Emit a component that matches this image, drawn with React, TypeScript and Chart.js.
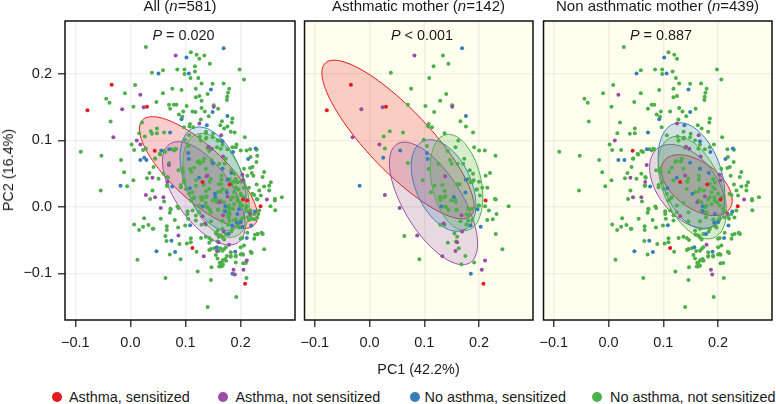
import React, { useEffect, useRef } from "react";
import { Chart, registerables } from "chart.js";

Chart.register(...registerables);

type Pt = [number, number];

const xTicks = [-0.1, 0, 0.1, 0.2];
const yTicks = [-0.1, 0, 0.1, 0.2];
const groupNames = ["Asthma, sensitized", "Asthma, not sensitized", "No asthma, sensitized", "No asthma, not sensitized"];
const groupColors = ["#E41A1C", "#984EA3", "#377EB8", "#4DAF4A"];

// Samples from children of asthmatic mothers
const motherRed: Pt[] = [[-0.078, 0.1455], [-0.034, 0.184], [0.03, 0.151], [0.212, 0.0096], [0.208, -0.1158]];
const motherPurple: Pt[] = [[0.082, 0.228], [-0.015, 0.147], [0.024, 0.15], [-0.031, 0.105], [0.018, 0.094], [0.151, 0.151], [0.138, 0.046], [0.168, -0.0126], [0.169, -0.037], [0.028, 0.018], [0.055, -0.0015], [0.087, -0.043], [0.16, -0.0534], [0.157, -0.0665], [0.133, -0.0745], [0.211, -0.0806], [0.205, -0.0947], [0.1355, -0.025]];
const motherBlue: Pt[] = [[0.169, 0.239], [0.176, 0.137], [0.056, 0.085], [0.025, 0.074], [0.105, 0.081], [0.106, 0.072], [-0.018, 0.032], [0.131, 0.0005], [0.154, 0.015], [0.175, 0.0216], [0.176, 0.041], [0.197, -0.0035], [0.1845, -0.028], [0.203, -0.03], [0.185, -0.1007]];
const motherGreen: Pt[] = [[0.134, 0.228], [0.117, 0.212], [0.144, 0.2155], [0.039, 0.202], [0.109, 0.194], [0.076, 0.178], [0.14, 0.17], [0.129, 0.16], [0.07, 0.154], [0.102, 0.152], [0.151, 0.153], [0.118, 0.143], [0.108, 0.125], [0.107, 0.121], [0.114, 0.12], [0.166, 0.129], [0.176, 0.121], [0.189, 0.112], [0.037, 0.114], [0.061, 0.112], [0.026, 0.106], [0.137, 0.111], [0.099, 0.101], [0.162, 0.1], [0.028, 0.088], [0.157, 0.09], [0.191, 0.09], [0.2, 0.085], [0.2105, 0.085], [0.23, 0.077], [0.07, 0.066], [0.143, 0.084], [0.147, 0.0705], [0.15, 0.065], [0.161, 0.065], [0.171, 0.065], [0.173, 0.0725], [0.108, 0.057], [0.105, 0.0917], [0.126, 0.065], [0.183, 0.055], [0.189, 0.05], [0.188, 0.038], [0.1845, 0.037], [0.16, 0.034], [0.1186, 0.032], [0.133, 0.033], [0.112, 0.022], [0.137, 0.024], [0.128, 0.015], [0.13, 0.011], [0.138, 0.016], [0.15, 0.01], [0.157, 0.01], [0.195, 0.026], [0.2015, 0.017], [0.206, 0.029], [0.215, 0.029], [0.212, 0.047], [0.22, 0.051], [0.2305, 0.011], [0.229, 0.012], [0.2, 0.002], [0.211, 0.001], [0.218, -0.0055], [0.232, -0.0106], [0.225, -0.0186], [0.215, -0.0197], [0.18, -0.003], [0.186, -0.003], [0.18, -0.012], [0.159, -0.0045], [0.144, -0.0045], [0.138, 0.0005], [0.188, -0.0197], [0.18, -0.0207], [0.177, -0.0267], [0.129, -0.027], [0.137, -0.027], [0.155, -0.04], [0.16, -0.045], [0.0635, -0.044], [0.2305, -0.041], [0.254, 0.001], [0.097, 0.04], [0.091, -0.079], [0.143, -0.054], [0.158, -0.052], [0.163, -0.0624], [0.175, -0.074], [0.1676, -0.0866], [0.191, -0.0836], [0.2426, -0.064], [0.1295, 0.0146], [0.129, 0.0106], [0.137, 0.0146], [0.14, -0.0005], [0.149, 0.0096], [0.157, 0.007], [0.1585, -0.0045], [0.177, -0.0116], [0.166, -0.0217], [0.199, 0.002], [0.196, 0.026], [0.2, 0.038], [0.19, 0.04], [0.1645, 0.034], [0.18, 0.042]];

// Samples from children of non asthmatic mothers
const otherRed: Pt[] = [[0.044, 0.0847], [0.1307, 0.0373], [0.18, 0.0338], [0.2045, 0.011], [0.236, 0.001], [0.1125, -0.062]];
const otherPurple: Pt[] = [[0.018, 0.169], [0.0115, 0.1], [0.125, 0.1255], [0.1646, 0.108], [0.1416, 0.0907], [0.1476, 0.0877], [0.168, 0.076], [0.0696, 0.063], [0.1398, 0.0474], [0.203, 0.0484], [0.2045, 0.04], [0.067, 0.0373], [0.0447, 0.0146], [0.0599, 0.0146], [0.176, 0.0156], [0.2475, 0.011], [0.04, 0.0438], [0.1307, -0.014], [0.162, 0.007], [0.217, -0.01], [0.179, -0.057], [0.187, -0.0947], [0.1894, -0.102]];
const otherBlue: Pt[] = [[0.1016, 0.225], [0.051, 0.201], [0.106, 0.201], [0.146, 0.177], [0.149, 0.143], [0.0926, 0.132], [0.072, 0.112], [0.1385, 0.123], [0.167, 0.099], [0.018, 0.0706], [0.029, 0.0706], [0.07, 0.0867], [0.2136, 0.072], [0.227, 0.088], [0.149, 0.0665], [0.167, 0.0575], [0.1246, 0.0438], [0.183, 0.051], [0.1077, 0.0282], [0.153, 0.0197], [0.186, 0.0827], [0.076, 0.0307], [0.172, 0.001], [0.172, -0.0066], [0.1083, -0.0277], [0.219, -0.028], [0.226, -0.007], [0.193, -0.024], [0.2, -0.023], [0.194, -0.0106], [0.178, -0.041], [0.211, -0.047], [0.0744, -0.051], [0.081, -0.068], [0.0472, -0.067], [0.1567, -0.061], [0.19, -0.0675]];
const otherGreen: Pt[] = [[0.028, 0.241], [0.1095, 0.233], [0.12, 0.229], [0.125, 0.223], [0.198, 0.207], [0.206, 0.192], [0.085, 0.207], [0.098, 0.207], [0.098, 0.2], [0.117, 0.204], [0.059, 0.206], [0.123, 0.194], [0.0085, 0.1835], [0.129, 0.186], [0.149, 0.1855], [0.169, 0.186], [0.1186, 0.178], [0.179, 0.178], [0.0926, 0.176], [0.059, 0.171], [-0.01, 0.171], [0.177, 0.172], [0.1755, 0.166], [0.1186, 0.165], [0.125, 0.167], [-0.044, 0.163], [-0.038, 0.157], [0.0054, 0.151], [0.047, 0.158], [0.175, 0.161], [0.072, 0.148], [0.0787, 0.154], [0.0835, 0.154], [0.0956, 0.1436], [0.1125, 0.1436], [0.129, 0.149], [0.135, 0.1436], [0.159, 0.148], [0.142, 0.1366], [0.088, 0.139], [0.094, 0.1356], [0.185, 0.133], [-0.036, 0.1285], [0.021, 0.127], [0.048, 0.118], [0.048, 0.111], [0.016, 0.111], [0.039, 0.11], [0.097, 0.12], [0.1277, 0.1315], [0.184, 0.127], [0.17, 0.118], [0.182, 0.113], [0.2075, 0.105], [0.163, 0.123], [0.137, 0.113], [0.138, 0.104], [0.149, 0.105], [0.1065, 0.108], [0.002, 0.094], [0.0067, 0.0857], [0.023, 0.0857], [0.063, 0.0827], [0.06, 0.084], [0.075, 0.0867], [0.083, 0.087], [-0.09, 0.083], [-0.0526, 0.077], [-0.017, 0.0706], [0.054, 0.079], [0.045, 0.073], [0.042, 0.06], [0.217, 0.0867], [0.229, 0.086],
  [0.1925, 0.094], [0.126, 0.106], [0.1277, 0.1], [0.1367, 0.103], [0.15, 0.11], [0.158, 0.1], [0.164, 0.0877], [0.1398, 0.0887], [0.185, 0.09], [0.176, 0.0867], [0.167, 0.0937], [0.082, 0.0877], [0.079, 0.085], [0.0532, 0.08], [0.0447, 0.0726], [0.0599, 0.05], [0.0671, 0.0449], [0.066, 0.032], [0.051, 0.0423], [0.0944, 0.0574], [0.087, 0.055], [0.0956, 0.0524], [0.1156, 0.059], [0.1246, 0.069], [0.1337, 0.0726], [0.132, 0.0685], [0.1216, 0.0675], [0.1107, 0.0524], [0.1367, 0.0575], [0.1458, 0.0423], [0.144, 0.038], [0.1428, 0.027], [0.165, 0.047], [0.165, 0.041], [0.167, 0.0575], [0.1186, 0.04], [0.0914, 0.0297], [0.1065, 0.0197], [0.1156, 0.0146], [0.0914, 0.033], [0.1004, 0.027], [0.0974, 0.037], [0.191, 0.042], [0.194, 0.037], [0.185, 0.035], [0.191, 0.0297], [0.194, 0.027], [0.167, 0.027], [0.174, 0.0247], [0.164, 0.023], [0.158, 0.022], [0.188, 0.022], [0.206, 0.0575], [0.2214, 0.06], [0.217, 0.0585], [0.2425, 0.0524], [0.2396, 0.045], [0.223, 0.047], [0.2547, 0.037], [0.2517, 0.032], [0.2425, 0.0307], [0.229, 0.0338], [0.2336, 0.0247], [0.218, 0.075], [0.2285, 0.0675], [0.2517, 0.0247], [0.2365, 0.017], [0.2245, 0.018], [0.2747, 0.0146], [0.262, 0.012], [0.221, 0.0197], [0.206, 0.0146], [0.193, 0.0146], [0.185, 0.0146], [0.2, 0.0197],
  [0.0853, 0.0005], [0.087, -0.0015], [0.073, -0.004], [0.0714, -0.009], [0.055, -0.018], [0.0805, -0.0197], [0.1035, -0.0066], [0.1035, -0.0106], [0.1047, -0.018], [0.1186, -0.0207], [0.1246, 0.002], [0.1095, 0.0096], [0.146, -0.0217], [0.167, -0.0217], [0.191, -0.019], [0.203, -0.017], [0.22, -0.018], [0.2299, -0.016], [0.2626, -0.005], [0.2335, -0.0055], [0.2245, -0.0106], [0.262, 0.0096], [0.0417, -0.0328], [0.066, -0.029], [0.066, -0.0348], [0.0865, -0.031], [0.0993, -0.028], [0.0654, -0.0514], [0.089, -0.056], [0.1023, -0.055], [0.1095, -0.0474], [0.1095, -0.0534], [0.128, -0.047], [0.1367, -0.045], [0.143, -0.047], [0.147, -0.05], [0.159, -0.042], [0.164, -0.043], [0.167, -0.046], [0.17, -0.049], [0.185, -0.033], [0.183, -0.037], [0.195, -0.029], [0.197, -0.031], [0.212, -0.039], [0.226, -0.042], [0.2305, -0.041], [0.2378, -0.039], [0.24, -0.041], [0.2245, -0.048], [0.2, -0.048], [0.203, -0.047], [0.2, -0.061], [0.206, -0.058], [0.2027, -0.071], [0.2093, -0.0847], [0.218, -0.0675], [0.22, -0.0696], [0.146, -0.0635], [0.152, -0.0625], [0.143, -0.065], [0.173, -0.061], [0.17, -0.0635], [0.155, -0.0726], [0.158, -0.0776], [0.167, -0.066], [0.182, -0.0685], [0.182, -0.075], [0.191, -0.0736], [0.172, -0.0786], [0.167, -0.081], [0.164, -0.086], [0.167, -0.0887], [0.161, -0.0897], [0.147, -0.091], [0.0714, -0.0716], [0.1198, -0.0675], [0.179, -0.008], [0.178, -0.0156], [0.173, -0.041],
  [0.1367, 0.006], [0.114, 0.013], [0.17, -0.0055], [0.1125, -0.0055], [0.1186, -0.013], [0.1246, -0.008], [0.146, -0.008], [0.167, -0.033], [0.158, -0.036], [0.194, -0.024], [0.2, -0.0207], [0.212, -0.0156], [0.218, -0.013], [0.179, 0.002], [0.188, 0.0045], [0.194, 0.0096], [0.198, 0.007], [0.203, 0.002], [0.209, -0.003], [0.2125, -0.007], [0.176, -0.0005], [0.17, 0.007], [0.164, 0.0096], [0.182, 0.011],
  [0.192, -0.1356], [0.2105, -0.107], [0.146, -0.11], [0.122, -0.0973], [0.0635, -0.107], [0.14, -0.1507], [0.0127, -0.0796], [-0.054, 0.0247], [-0.006, 0.031], [-0.0115, 0.052], [0.0054, 0.0403], [0.0345, 0.051], [0.03, 0.043], [0.067, 0.032], [0.068, 0.044], [0.0357, 0.012], [0.04, 0.0247], [0.061, 0.008], [0.0726, -0.003], [0.0067, -0.0267], [0.0157, -0.0348], [0.023, -0.03], [0.0248, -0.0171], [0.0327, -0.0272], [0.0405, -0.0328], [0.16, -0.0665], [0.162, -0.084], [0.168, -0.08], [0.1735, -0.0811], [0.182, -0.074], [0.191, -0.0746], [0.2, -0.0716], [0.2045, -0.072], [0.2045, -0.085], [0.1635, -0.0897]];

// Ellipses: [centre x, centre y, half width, half height, correlation], order red, purple, blue, green
const ellipsesAll = [[0.1234, 0.0518, 0.1071, 0.0841, -0.78], [0.1331, 0.0204, 0.075, 0.0778, -0.62], [0.15, 0.0422, 0.06, 0.0782, -0.42], [0.1553, 0.0324, 0.0602, 0.0783, -0.42]];
const ellipsesMother = [[0.052, 0.1015, 0.139, 0.1195, -0.84], [0.1168, 0.0052, 0.0805, 0.0923, -0.66], [0.1352, 0.0322, 0.059, 0.069, -0.42], [0.1588, 0.0367, 0.0481, 0.0725, -0.3]];
const ellipsesOther = [[0.161, 0.0327, 0.0648, 0.0458, -0.5], [0.1437, 0.0309, 0.0687, 0.0632, -0.45], [0.1515, 0.0468, 0.0608, 0.08, -0.35], [0.153, 0.029, 0.0623, 0.0773, -0.45]];

const xRange = [-0.1187, 0.2985];
const yRange = [-0.1704, 0.28];
const FONT = "'Liberation Sans', Arial, sans-serif";
const IVORY = "#FFFFF0";

const panels = [
  { left: 0, plotLeft: 65, bg: "#FFFFFF", ell: ellipsesAll, showY: true, cx: 180, title: ["All (", "=581)"], p: "= 0.020",
    groups: [[...motherRed, ...otherRed], [...motherPurple, ...otherPurple], [...motherBlue, ...otherBlue], [...motherGreen, ...otherGreen]] },
  { left: 293, plotLeft: 10, bg: IVORY, ell: ellipsesMother, showY: false, cx: 418.5, title: ["Asthmatic mother (", "=142)"], p: "< 0.001",
    groups: [motherRed, motherPurple, motherBlue, motherGreen] },
  { left: 532, plotLeft: 10, bg: IVORY, ell: ellipsesOther, showY: false, cx: 657.5, title: ["Non asthmatic mother (", "=439)"], p: "= 0.887",
    groups: [otherRed, otherPurple, otherBlue, otherGreen] },
];

const PLOT_W = 230;
const PLOT_TOP = 21;
const PLOT_BOTTOM = 320;
const CANVAS_H = 352;

function Panel({ cfg }: { cfg: (typeof panels)[number] }) {
  const ref = useRef<HTMLCanvasElement>(null);
  useEffect(() => {
    const ctxEl = ref.current!;
    const ellipsePlugin = {
      id: "ellipses",
      beforeDraw(chart: any) {
        const { ctx, chartArea: a } = chart;
        ctx.save();
        ctx.fillStyle = cfg.bg;
        ctx.fillRect(a.left, a.top, a.right - a.left, a.bottom - a.top);
        ctx.restore();
      },
      beforeDatasetsDraw(chart: any) {
        const { ctx, scales } = chart;
        cfg.ell.forEach(([cx, cy, sx, sy, r]: number[], i: number) => {
          ctx.save();
          ctx.beginPath();
          const q = Math.sqrt(1 - r * r);
          for (let k = 0; k <= 120; k++) {
            const t = (k / 120) * Math.PI * 2;
            const px = scales.x.getPixelForValue(cx + sx * Math.cos(t));
            const py = scales.y.getPixelForValue(cy + sy * (r * Math.cos(t) + q * Math.sin(t)));
            if (k === 0) ctx.moveTo(px, py);
            else ctx.lineTo(px, py);
          }
          ctx.closePath();
          ctx.globalAlpha = 0.22;
          ctx.fillStyle = groupColors[i];
          ctx.fill();
          ctx.globalAlpha = 1;
          ctx.lineWidth = 1;
          ctx.strokeStyle = groupColors[i];
          ctx.stroke();
          ctx.restore();
        });
      },
      afterDraw(chart: any) {
        const { ctx, chartArea: a } = chart;
        ctx.save();
        ctx.strokeStyle = "#111";
        ctx.lineWidth = 1.5;
        ctx.strokeRect(a.left, a.top, a.right - a.left, a.bottom - a.top);
        ctx.restore();
      },
    };
    const label = (v: number) => (v < 0 ? "\u2212" : "") + Math.abs(v).toFixed(1);
    const chart = new Chart(ctxEl, {
      type: "scatter",
      data: {
        datasets: cfg.groups.map((pts, i) => ({
          label: groupNames[i],
          data: pts.map(([x, y]) => ({ x, y })),
          backgroundColor: groupColors[i],
          borderWidth: 0,
          pointRadius: 2,
        })),
      },
      options: {
        animation: false,
        responsive: false,
        devicePixelRatio: 1,
        layout: { padding: { top: PLOT_TOP, right: 5, left: 0, bottom: 0 } },
        plugins: { legend: { display: false }, tooltip: { enabled: false } },
        scales: {
          x: {
            type: "linear",
            min: xRange[0],
            max: xRange[1],
            afterBuildTicks: (s: any) => { s.ticks = xTicks.map((value) => ({ value })); },
            afterFit: (s: any) => { s.height = CANVAS_H - PLOT_BOTTOM; },
            border: { display: false },
            grid: { color: "rgba(0,0,0,0.055)", lineWidth: 1.5, tickColor: "#444", tickLength: 7, tickWidth: 1.5 },
            ticks: { callback: (v: any) => label(Number(v)), maxRotation: 0, autoSkip: false, padding: 7, color: "#1a1a1a", font: { family: FONT, size: 14.5 } },
          },
          y: {
            type: "linear",
            min: yRange[0],
            max: yRange[1],
            afterBuildTicks: (s: any) => { s.ticks = yTicks.map((value) => ({ value })); },
            afterFit: (s: any) => { s.width = cfg.plotLeft; },
            border: { display: false },
            grid: { color: "rgba(0,0,0,0.055)", lineWidth: 1.5, drawTicks: cfg.showY, tickColor: "#444", tickLength: 7, tickWidth: 1.5 },
            ticks: { display: cfg.showY, callback: (v: any) => label(Number(v)), padding: 6, color: "#1a1a1a", font: { family: FONT, size: 14.5 } },
          },
        },
      },
      plugins: [ellipsePlugin],
    } as any);
    return () => chart.destroy();
  }, []);
  return (
    <canvas
      ref={ref}
      width={cfg.plotLeft + PLOT_W + 5}
      height={CANVAS_H}
      style={{ position: "absolute", left: cfg.left, top: 0, display: "block" }}
    />
  );
}

const textBase: React.CSSProperties = { position: "absolute", fontFamily: FONT, fontSize: 14.4, lineHeight: "16px", color: "#1a1a1a", whiteSpace: "nowrap" };

const legendSpots = [{ dot: 56.5, text: 69 }, { dot: 222.5, text: 235.5 }, { dot: 415, text: 424.5 }, { dot: 597, text: 610 }];

export default function App() {
  return (
    <div style={{ position: "fixed", left: 0, top: 0, width: 776, height: 404, overflow: "hidden", background: "#fff" }}>
      {panels.map((p, i) => <Panel key={i} cfg={p} />)}
      {panels.map((p, i) => (
        <React.Fragment key={i}>
          <div style={{ ...textBase, fontSize: 15, left: p.cx, top: -2, transform: "translateX(-50%)" }}>
            {p.title[0]}<i>n</i>{p.title[1]}
          </div>
          <div style={{ ...textBase, left: p.cx + 3.5, top: 27, transform: "translateX(-50%)" }}>
            <i>P</i> {p.p}
          </div>
        </React.Fragment>
      ))}
      <div style={{ ...textBase, left: 8, top: 170, transform: "translate(-50%,-50%) rotate(-90deg)" }}>PC2 (16.4%)</div>
      <div style={{ ...textBase, left: 418.5, top: 361 }}><span style={{ display: "inline-block", transform: "translateX(-50%)" }}>PC1 (42.2%)</span></div>
      {legendSpots.map((s, i) => (
        <React.Fragment key={i}>
          <div style={{ position: "absolute", left: s.dot - 5, top: 392, width: 10, height: 10, borderRadius: "50%", background: groupColors[i] }} />
          <div style={{ ...textBase, left: s.text, top: 389 }}>{groupNames[i]}</div>
        </React.Fragment>
      ))}
    </div>
  );
}
